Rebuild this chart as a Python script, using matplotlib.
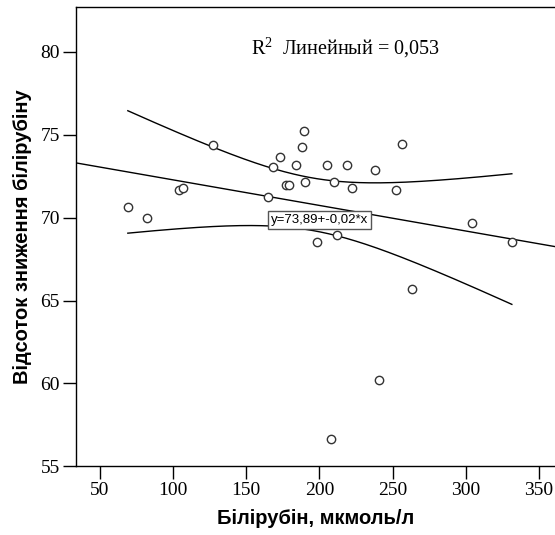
import numpy as np
import matplotlib
matplotlib.use("Agg")
import matplotlib.pyplot as plt

plt.rcParams["mathtext.fontset"] = "custom"
plt.rcParams["mathtext.rm"] = "Liberation Serif"

# bilirubin (x) vs percent of bilirubin reduction (y)
bilirubin = [69.0, 82.0, 104.1, 106.4, 127.2, 165.1, 168.2, 173.0, 177.3, 178.9,
             184.1, 188.2, 189.2, 190.2, 198.1, 205.1, 208.1, 210.1, 212.0, 219.0,
             222.2, 238.2, 240.7, 252.1, 256.2, 263.1, 304.3, 331.5]
reduction = [70.66, 69.98, 71.67, 71.77, 74.37, 71.27, 73.04, 73.67, 71.97, 71.97,
             73.16, 74.27, 75.26, 72.17, 68.56, 73.16, 56.66, 72.17, 68.98, 73.16,
             71.77, 72.86, 60.18, 71.67, 74.47, 65.68, 69.67, 68.56]
x_ticks = [50, 100, 150, 200, 250, 300, 350]
y_ticks = [55, 60, 65, 70, 75, 80]
r2_text = r"R$^{\mathrm{2}}$  Линейный = 0,053"
eq_text = "y=73,89+-0,02*x"

x = np.array(bilirubin)
y = np.array(reduction)
n = len(x)
slope, intercept = np.polyfit(x, y, 1)
xbar = x.mean()
sxx = ((x - xbar) ** 2).sum()
resid = y - (intercept + slope * x)
s = np.sqrt((resid ** 2).sum() / (n - 2))
t_crit = 2.056  # t(0.975, 26)

fig = plt.figure(figsize=(5.55, 5.35), dpi=100)
ax = fig.add_axes([0.1365, 0.1285, 0.8635, 0.858])

xlim = (33.4, 361)
xl = np.linspace(xlim[0], xlim[1], 200)
ax.plot(xl, intercept + slope * xl, color="black", lw=1.0)

# 95% confidence band of the mean
xb = np.linspace(x.min(), x.max(), 200)
yb = intercept + slope * xb
half = t_crit * s * np.sqrt(1 / n + (xb - xbar) ** 2 / sxx)
ax.plot(xb, yb + half, color="black", lw=1.0)
ax.plot(xb, yb - half, color="black", lw=1.0)

ax.scatter(x, y, s=36, facecolors="white", edgecolors="#333333", linewidths=1.0, zorder=3)

ax.text(200, 69.85, eq_text, ha="center", va="center", fontsize=9.5,
        family="Liberation Sans", zorder=4,
        bbox=dict(boxstyle="square,pad=0.25", fc="white", ec="#555555", lw=1.0))
ax.text(0.562, 0.913, r2_text, transform=ax.transAxes, ha="center", va="center",
        fontsize=14.5, family="Liberation Serif")

ax.set_xlim(*xlim)
ax.set_ylim(55, 82.7)
ax.set_xticks(x_ticks)
ax.set_yticks(y_ticks)
ax.tick_params(direction="out", length=9.5, width=1.0, labelsize=14, pad=2)
for lab in ax.get_xticklabels() + ax.get_yticklabels():
    lab.set_family("Liberation Serif")
ax.spines["right"].set_visible(False)
for sp in ["left", "bottom", "top"]:
    ax.spines[sp].set_linewidth(1.0)

ax.set_xlabel("Білірубін, мкмоль/л", fontsize=14.5, fontweight="bold",
              family="Liberation Sans", labelpad=7)
ax.set_ylabel("Відсоток зниження білірубіну", fontsize=14.5, fontweight="bold",
              family="Liberation Sans", labelpad=6)

fig.savefig("out.png", dpi=100)
